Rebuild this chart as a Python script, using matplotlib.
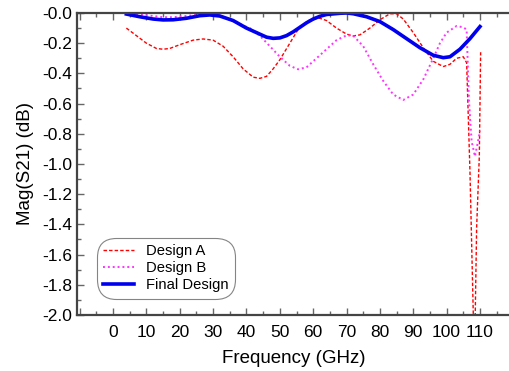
import matplotlib
matplotlib.use('Agg')
import matplotlib.pyplot as plt
from matplotlib.ticker import MultipleLocator, FuncFormatter

plt.rcParams['font.family'] = ['Liberation Sans', 'DejaVu Sans']

# Final Design
freq_f = [4, 8, 12, 15, 18, 22, 26, 29, 32, 36, 40, 44, 46, 48, 50, 52, 54, 56, 58, 60,
          62, 64, 68, 70, 72, 76, 80, 84, 88, 92, 96, 99, 101, 104, 107, 110]
mag_f = [-0.007, -0.025, -0.04, -0.046, -0.045, -0.035, -0.018, -0.013, -0.02, -0.05,
         -0.10, -0.14, -0.16, -0.168, -0.165, -0.15, -0.125, -0.095, -0.065, -0.04,
         -0.022, -0.01, -0.002, 0.0, -0.005, -0.025, -0.057, -0.11, -0.17, -0.23,
         -0.28, -0.296, -0.29, -0.24, -0.17, -0.09]

# Design A
freq_a = [4, 7, 10, 13, 15, 17, 20, 24, 27, 30, 33, 36, 39, 42, 44, 46, 48, 50, 53, 56,
          59, 62, 64, 67, 70, 72, 74, 77, 80, 83, 85, 87, 90, 93, 96, 99, 101, 103, 105,
          106, 107, 108, 108.5, 109, 109.8, 110.2]
mag_a = [-0.10, -0.15, -0.20, -0.235, -0.24, -0.235, -0.21, -0.18, -0.172, -0.18,
         -0.22, -0.29, -0.37, -0.425, -0.433, -0.42, -0.37, -0.31, -0.20, -0.09,
         -0.045, -0.035, -0.05, -0.10, -0.14, -0.152, -0.145, -0.10, -0.045, -0.005,
         -0.005, -0.04, -0.13, -0.23, -0.32, -0.355, -0.34, -0.30, -0.29,
         -0.33, -1.05, -2.0, -2.1, -1.42, -0.95, -0.26]

# Design B
freq_b = [4, 8, 12, 15, 18, 22, 26, 29, 32, 35, 38, 41, 44, 47, 50, 53, 55.5, 58, 61,
          64, 67, 70, 72, 75, 78, 81, 84, 87, 90, 93, 96, 98, 100, 103, 105, 106,
          106.7, 107.5, 108.5, 109.5, 110]
mag_b = [-0.005, -0.01, -0.02, -0.028, -0.028, -0.02, -0.01, -0.005, -0.015, -0.045,
         -0.075, -0.10, -0.15, -0.22, -0.29, -0.35, -0.373, -0.36, -0.30, -0.24,
         -0.18, -0.148, -0.15, -0.22, -0.34, -0.45, -0.54, -0.576, -0.54, -0.44,
         -0.30, -0.20, -0.13, -0.086, -0.095, -0.11, -0.58, -0.85, -0.95, -0.84, -0.78]

fig = plt.figure(figsize=(5.1, 3.71), dpi=100)
ax = fig.add_axes([0.151, 0.151, 0.849, 0.814])

ax.plot(freq_a, mag_a, color='red', linestyle=(0, (2.5, 1.5)), lw=1.0, label='Design A')
ax.plot(freq_b, mag_b, color='#ff33ff', linestyle=(0, (1, 1.5)), lw=1.4, label='Design B')
ax.plot(freq_f, mag_f, color='#0000ee', lw=2.6, label='Final Design')

ax.set_xlim(-10.8, 119)
ax.set_ylim(-2.0, 0.0)
ax.xaxis.set_major_locator(MultipleLocator(10))
ax.xaxis.set_minor_locator(MultipleLocator(5))
ax.yaxis.set_major_locator(MultipleLocator(0.2))
ax.yaxis.set_minor_locator(MultipleLocator(0.1))
ax.xaxis.set_major_formatter(FuncFormatter(lambda v, p: '%d' % round(v) if -1 < v < 111 else ''))
ax.yaxis.set_major_formatter(FuncFormatter(lambda v, p: '-%.1f' % abs(v)))

ax.tick_params(which='both', direction='in', top=True, right=False, colors='#666666',
               labelcolor='black', labelsize=12.5)
ax.tick_params(which='major', length=5, width=1)
ax.tick_params(which='minor', length=3, width=1)
ax.tick_params(axis='x', which='major', pad=7.5)

for s in ['left', 'top', 'bottom']:
    ax.spines[s].set_color('#444444')
    ax.spines[s].set_linewidth(1.6)
ax.spines['right'].set_visible(False)

ax.set_xlabel('Frequency (GHz)', fontsize=13.5, labelpad=7)
ax.set_ylabel('Mag(S21) (dB)', fontsize=13.5, labelpad=6)

leg = ax.legend(loc='lower left', bbox_to_anchor=(0.05, 0.06), fontsize=10.6,
                handlelength=2.1, labelspacing=0.22, borderpad=0.3, handletextpad=0.8,
                borderaxespad=0, frameon=True, fancybox=True)
frame = leg.get_frame()
frame.set_edgecolor('#666666')
frame.set_linewidth(0.8)
frame.set_boxstyle('round', pad=0.12, rounding_size=1.3)

fig.savefig('out.png', dpi=100)
